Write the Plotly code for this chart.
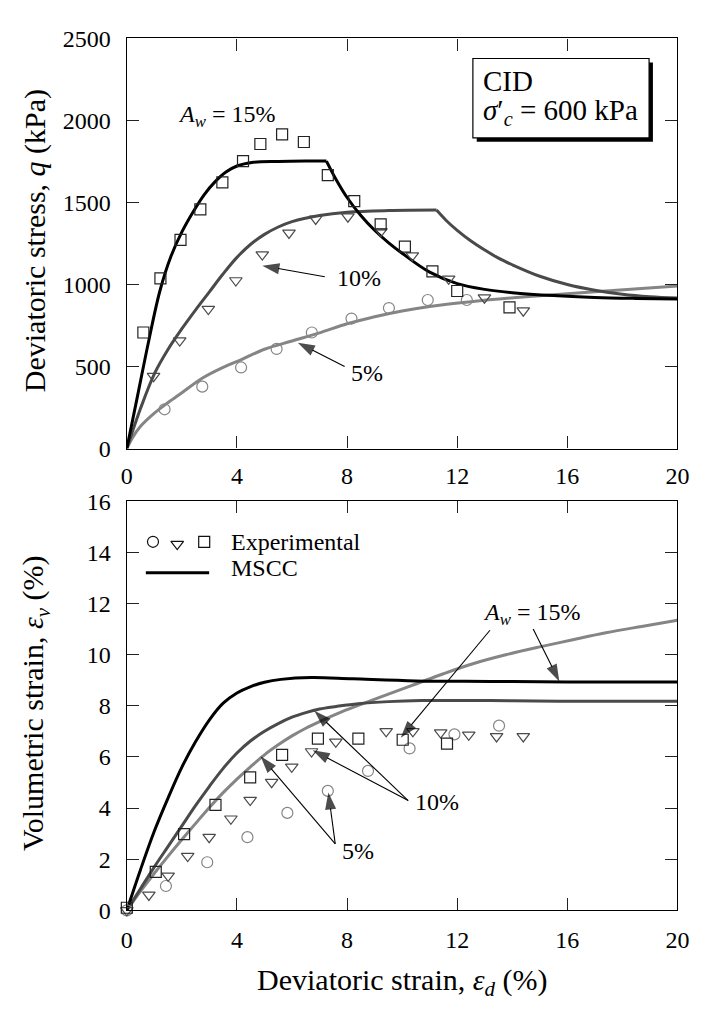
import plotly.graph_objects as go

# ---------------- Deviatoric stress vs deviatoric strain (top) ----------------
# Experimental points, A_w = 15 %, 10 %, 5 %
q_exp15_ed = [0.6, 1.22, 1.95, 2.67, 3.47, 4.22, 4.85, 5.64, 6.43, 7.30, 8.26, 9.22, 10.1, 11.1, 12.0, 13.9]
q_exp15 = [707, 1037, 1271, 1458, 1622, 1751, 1856, 1915, 1868, 1666, 1508, 1366, 1231, 1079, 960, 860]

q_exp10_ed = [0.97, 1.92, 2.96, 3.96, 4.92, 5.89, 6.86, 8.03, 9.23, 10.37, 11.69, 12.99, 14.4]
q_exp10 = [441, 658, 850, 1024, 1182, 1314, 1399, 1413, 1324, 1176, 1034, 919, 840]

q_exp5_ed = [1.37, 2.74, 4.15, 5.44, 6.72, 8.16, 9.52, 10.93, 12.35]
q_exp5 = [239, 377, 494, 607, 707, 792, 856, 905, 905]

# MSCC model curves (hardening branch, then softening branch)
q_mscc15_pre_ed = [0, 0.4, 0.8, 1.2, 1.6, 2.0, 2.4, 2.8, 3.2, 3.6, 4.0, 4.6, 5.5, 6.5, 7.25]
q_mscc15_pre = [0, 330, 660, 960, 1170, 1320, 1440, 1545, 1625, 1685, 1722, 1745, 1750, 1752, 1752]
q_mscc15_post_ed = [7.25, 7.6, 8.0, 8.5, 9.0, 9.5, 10.0, 11.0, 12.0, 13.0, 14.0, 15.5, 17.0, 18.5, 20.0]
q_mscc15_post = [1752, 1640, 1530, 1420, 1330, 1255, 1190, 1075, 1005, 970, 950, 932, 921, 915, 911]

q_mscc10_pre_ed = [0, 0.5, 1.0, 1.5, 2.0, 2.5, 3.0, 3.5, 4.0, 4.5, 5.0, 5.5, 6.0, 7.0, 8.0, 9.5, 11.25]
q_mscc10_pre = [0, 245, 455, 605, 730, 845, 955, 1065, 1165, 1245, 1305, 1350, 1383, 1420, 1440, 1450, 1453]
q_mscc10_post_ed = [11.25, 11.6, 12.0, 12.5, 13.0, 13.5, 14.0, 15.0, 16.0, 17.0, 18.0, 19.0, 20.0]
q_mscc10_post = [1453, 1390, 1330, 1265, 1210, 1160, 1120, 1050, 1000, 965, 940, 925, 917]

q_mscc5_ed = [0, 0.2, 0.5, 1.0, 1.5, 2.0, 2.75, 3.5, 4.2, 5.0, 6.0, 7.0, 8.0, 9.0, 10.0, 11.0, 12.5, 14.5, 17.0, 20.0]
q_mscc5 = [0, 65, 135, 215, 280, 340, 430, 495, 545, 605, 655, 705, 760, 803, 838, 866, 895, 925, 955, 990]

# ---------------- Volumetric strain vs deviatoric strain (bottom) ----------------
v_exp15_ed = [0, 1.05, 2.08, 3.22, 4.48, 5.64, 6.94, 8.41, 10.02, 11.63]
v_exp15 = [0.1, 1.5, 2.98, 4.12, 5.2, 6.08, 6.71, 6.71, 6.67, 6.52]

v_exp10_ed = [0, 0.8, 1.5, 2.21, 2.99, 3.78, 4.48, 5.26, 5.99, 6.71, 7.59, 9.42, 10.39, 11.4, 12.42, 13.43, 14.4]
v_exp10 = [0.0, 0.6, 1.35, 2.12, 2.86, 3.58, 4.31, 5.01, 5.61, 6.21, 6.59, 7.0, 7.0, 6.95, 6.86, 6.8, 6.8]

v_exp5_ed = [0, 1.42, 2.92, 4.38, 5.83, 7.30, 8.76, 10.27, 11.9, 13.52]
v_exp5 = [0.0, 0.95, 1.88, 2.86, 3.81, 4.67, 5.45, 6.33, 6.88, 7.22]

v_mscc15_ed = [0, 0.5, 1.0, 1.5, 2.0, 2.5, 3.0, 3.5, 4.0, 4.5, 5.0, 5.6, 6.7, 8.2, 10.5, 13.2, 16.0, 20.0]
v_mscc15 = [0, 1.6, 3.1, 4.4, 5.6, 6.6, 7.45, 8.1, 8.5, 8.75, 8.92, 9.03, 9.1, 9.05, 8.97, 8.95, 8.93, 8.93]

v_mscc10_ed = [0, 0.5, 1.0, 1.5, 2.0, 2.5, 3.0, 3.5, 4.0, 4.5, 5.0, 5.5, 6.0, 6.5, 7.0, 7.6, 8.4,
               9.5, 10.7, 13.2, 15.7, 20.0]
v_mscc10 = [0, 0.85, 1.7, 2.5, 3.3, 4.1, 4.85, 5.55, 6.15, 6.63, 7.0, 7.3, 7.55, 7.73, 7.87, 7.97, 8.08,
            8.16, 8.2, 8.2, 8.17, 8.17]

v_mscc5_ed = [0, 0.5, 1.0, 1.5, 2.0, 2.5, 3.0, 3.5, 4.0, 4.5, 5.0, 5.5, 6.0, 6.5, 7.0, 7.8, 8.7, 9.5, 10.5,
              11.5, 12.6, 13.8, 15.0, 16.2, 17.4, 18.7, 20.0]
v_mscc5 = [0, 0.75, 1.45, 2.12, 2.77, 3.4, 4.02, 4.6, 5.13, 5.62, 6.08, 6.47, 6.82, 7.12, 7.38, 7.76, 8.13,
           8.45, 8.85, 9.25, 9.65, 10.0, 10.3, 10.58, 10.85, 11.1, 11.34]

# axis ticks
x_ticks = [0, 4, 8, 12, 16, 20]
q_ticks = [0, 500, 1000, 1500, 2000, 2500]
v_ticks = [0, 2, 4, 6, 8, 10, 12, 14, 16]

# ---------------- styling ----------------
FONT = "Liberation Serif, serif"
C15, C10, C5 = "#000000", "#4a4a4a", "#858585"
M15, M10, M5 = "#222222", "#4a4a4a", "#858585"
LW = 3

fig = go.Figure()


def add_line(x, y, color, xa, ya):
    fig.add_trace(go.Scatter(x=x, y=y, mode="lines", line=dict(color=color, width=LW, shape="spline", smoothing=1.0),
                             xaxis=xa, yaxis=ya, showlegend=False, hoverinfo="skip"))


def add_pts(x, y, symbol, color, size, xa, ya):
    fig.add_trace(go.Scatter(x=x, y=y, mode="markers",
                             marker=dict(symbol=symbol, size=size, color=color, line=dict(color=color, width=1.2)),
                             xaxis=xa, yaxis=ya, showlegend=False, cliponaxis=False, hoverinfo="skip"))


def add_arrow(tail, head, xa, ya):
    fig.add_trace(go.Scatter(x=[tail[0], head[0]], y=[tail[1], head[1]], mode="lines+markers",
                             line=dict(color="black", width=1.1),
                             marker=dict(symbol=["circle", "arrow"], size=[0, 18], angleref="previous",
                                         color="black", line=dict(width=0)),
                             xaxis=xa, yaxis=ya, showlegend=False, cliponaxis=False, hoverinfo="skip"))


# top panel
add_line(q_mscc5_ed, q_mscc5, C5, "x", "y")
add_line(q_mscc10_pre_ed, q_mscc10_pre, C10, "x", "y")
add_line(q_mscc10_post_ed, q_mscc10_post, C10, "x", "y")
add_line(q_mscc15_pre_ed, q_mscc15_pre, C15, "x", "y")
add_line(q_mscc15_post_ed, q_mscc15_post, C15, "x", "y")
add_pts(q_exp5_ed, q_exp5, "circle-open", M5, 11, "x", "y")
add_pts(q_exp10_ed, q_exp10, "triangle-down-open", M10, 11, "x", "y")
add_pts(q_exp15_ed, q_exp15, "square-open", M15, 11, "x", "y")

# bottom panel
add_line(v_mscc5_ed, v_mscc5, C5, "x2", "y2")
add_line(v_mscc10_ed, v_mscc10, C10, "x2", "y2")
add_line(v_mscc15_ed, v_mscc15, C15, "x2", "y2")
add_pts(v_exp5_ed, v_exp5, "circle-open", M5, 11, "x2", "y2")
add_pts(v_exp10_ed, v_exp10, "triangle-down-open", M10, 11, "x2", "y2")
add_pts(v_exp15_ed, v_exp15, "square-open", M15, 11, "x2", "y2")

# legend (drawn inside the lower panel)
add_pts([0.95], [14.41], "circle-open", "#111111", 11, "x2", "y2")
add_pts([1.83], [14.32], "triangle-down-open", "#111111", 11, "x2", "y2")
add_pts([2.81], [14.41], "square-open", "#111111", 11, "x2", "y2")
fig.add_trace(go.Scatter(x=[0.69, 2.99], y=[13.2, 13.2], mode="lines", line=dict(color="black", width=LW),
                         xaxis="x2", yaxis="y2", showlegend=False, cliponaxis=False, hoverinfo="skip"))

# pointer arrows (tail -> head)
add_arrow((7.19, 1047), (4.92, 1114), "x", "y")
add_arrow((7.91, 500), (6.21, 645), "x", "y")
add_arrow((13.19, 10.95), (9.95, 6.75), "x2", "y2")
add_arrow((14.76, 11.0), (15.71, 8.95), "x2", "y2")
add_arrow((10.22, 4.29), (6.81, 7.8), "x2", "y2")
add_arrow((10.22, 4.29), (6.75, 6.26), "x2", "y2")
add_arrow((7.57, 2.6), (4.86, 6.02), "x2", "y2")
add_arrow((7.57, 2.6), (7.32, 4.61), "x2", "y2")

XDOM = [124 / 706, 689 / 706]
axis_common = dict(range=[0, 20], showline=True, linecolor="black", linewidth=1.4, mirror="ticks",
                   ticks="inside", ticklen=12, tickwidth=1.3, tickcolor="#222222", showgrid=False,
                   zeroline=False, tickfont=dict(family=FONT, size=24, color="black"))

fig.update_layout(
    width=706, height=1011, margin=dict(l=0, r=0, t=0, b=0),
    paper_bgcolor="white", plot_bgcolor="white",
    font=dict(family=FONT, color="black"),
    xaxis=dict(axis_common, domain=XDOM, anchor="y", tickvals=x_ticks, ticklabelstandoff=5),
    yaxis=dict(axis_common, range=[0, 2500], domain=[1 - 447 / 1011, 1 - 26 / 1011], anchor="x",
               tickvals=q_ticks, ticklabelstandoff=10),
    xaxis2=dict(axis_common, domain=XDOM, anchor="y2", tickvals=x_ticks, ticklabelstandoff=8),
    yaxis2=dict(axis_common, range=[0, 16], domain=[1 - 921 / 1011, 1 - 501 / 1011], anchor="x2",
                tickvals=v_ticks, ticklabelstandoff=10),
)

# CID box with drop shadow
fig.add_shape(type="rect", xref="x", yref="y", x0=12.71, x1=19.11, y0=1869, y1=2353,
              fillcolor="black", line=dict(width=0), layer="above")
fig.add_shape(type="rect", xref="x", yref="y", x0=12.57, x1=18.97, y0=1893, y1=2377,
              fillcolor="white", line=dict(color="black", width=1.2), layer="above")

ANN = 24
notes = [
    dict(x=12.87, y=2239, xref="x", yref="y", text="CID", size=29),
    dict(x=12.87, y=2050, xref="x", yref="y", text="<i>σ</i>′<sub><i>c</i></sub> = 600 kPa", size=29),
    dict(x=1.77, y=2025, xref="x", yref="y", text="<i>A</i><sub><i>w</i></sub> = 15%", size=ANN),
    dict(x=7.57, y=1041, xref="x", yref="y", text="10%", size=ANN),
    dict(x=8.07, y=461, xref="x", yref="y", text="5%", size=ANN),
    dict(x=12.87, y=11.57, xref="x2", yref="y2", text="<i>A</i><sub><i>w</i></sub> = 15%", size=ANN),
    dict(x=10.41, y=4.23, xref="x2", yref="y2", text="10%", size=ANN),
    dict(x=7.76, y=2.32, xref="x2", yref="y2", text="5%", size=ANN),
    dict(x=3.70, y=14.41, xref="x2", yref="y2", text="Experimental", size=ANN),
    dict(x=3.70, y=13.37, xref="x2", yref="y2", text="MSCC", size=ANN),
]
for n in notes:
    fig.add_annotation(x=n["x"], y=n["y"], xref=n["xref"], yref=n["yref"], text=n["text"], showarrow=False,
                       xanchor="left", yanchor="middle", font=dict(family=FONT, size=n["size"], color="black"))

# axis titles
TITLE = 30
fig.add_annotation(x=406.5 / 706, y=1 - 995 / 1011, xref="paper", yref="paper", showarrow=False,
                   text="Deviatoric strain, <i>ε<sub>d</sub></i> (%)", xanchor="center", yanchor="middle",
                   font=dict(family=FONT, size=TITLE, color="black"))
fig.add_annotation(x=30 / 706, y=1 - 234 / 1011, xref="paper", yref="paper", showarrow=False, textangle=-90,
                   text="Deviatoric stress, <i>q</i> (kPa)", xanchor="center", yanchor="middle",
                   font=dict(family=FONT, size=TITLE, color="black"))
fig.add_annotation(x=30 / 706, y=1 - 708 / 1011, xref="paper", yref="paper", showarrow=False, textangle=-90,
                   text="Volumetric strain, <i>ε<sub>v</sub></i> (%)", xanchor="center", yanchor="middle",
                   font=dict(family=FONT, size=TITLE, color="black"))

fig.write_html("out.html")
